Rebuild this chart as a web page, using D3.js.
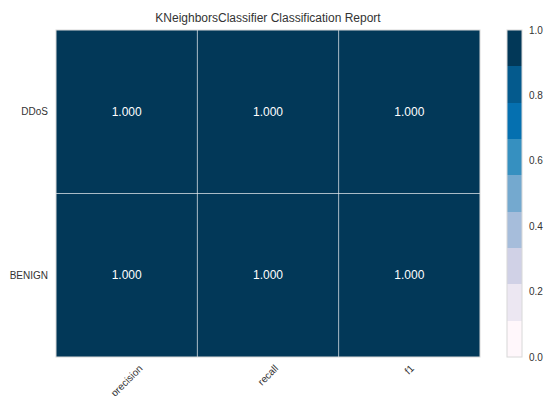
<!DOCTYPE html>
<html><head><meta charset="utf-8">
<script src="https://cdn.jsdelivr.net/npm/d3@7"></script>
<style>body{margin:0;background:#fff}text{font-family:"Liberation Sans",Arial,sans-serif}</style>
</head><body><svg id="c" width="544" height="396"></svg>
<script>
const title = "KNeighborsClassifier Classification Report";
const classes = ["DDoS", "BENIGN"];
const metrics = ["precision", "recall", "f1"];
const scores = [
  [1.0, 1.0, 1.0],
  [1.0, 1.0, 1.0]
];
const cbarTicks = [0.0, 0.2, 0.4, 0.6, 0.8, 1.0];
const palette = ["#fff7fb","#ece7f2","#d0d1e6","#a6bddb","#74a9cf","#3690c0","#0570b0","#045a8d","#023858"];

const svg = d3.select("#c");
const L = 56, R = 480, T = 30, B = 357;
const x = d3.scaleBand().domain(metrics).range([L, R]);
const y = d3.scaleBand().domain(classes).range([T, B]);
const color = d3.scaleQuantize().domain([0, 1]).range(palette);

const cells = [];
classes.forEach((c, i) => metrics.forEach((m, j) => cells.push({c, m, v: scores[i][j]})));

svg.selectAll("rect.cell").data(cells).join("rect").attr("class","cell")
  .attr("x", d => x(d.m)).attr("y", d => y(d.c))
  .attr("width", x.bandwidth()).attr("height", y.bandwidth())
  .attr("fill", d => color(d.v));

// grid lines
metrics.slice(1).forEach(m => svg.append("line").attr("x1", x(m)).attr("x2", x(m)).attr("y1", T).attr("y2", B)
  .attr("stroke", "#fff").attr("stroke-opacity", 0.55).attr("stroke-width", 1));
classes.slice(1).forEach(c => svg.append("line").attr("x1", L).attr("x2", R).attr("y1", y(c)).attr("y2", y(c))
  .attr("stroke", "#fff").attr("stroke-opacity", 0.55).attr("stroke-width", 1));

svg.append("rect").attr("x", L).attr("y", T).attr("width", R-L).attr("height", B-T)
  .attr("fill", "none").attr("stroke", "#d8d8d8").attr("stroke-width", 1);

svg.selectAll("text.val").data(cells).join("text").attr("class","val")
  .attr("x", d => x(d.m) + x.bandwidth()/2).attr("y", d => y(d.c) + y.bandwidth()/2)
  .attr("text-anchor","middle").attr("dominant-baseline","central")
  .attr("font-size", 12).attr("fill", "#fff").text(d => d3.format(".3f")(d.v));

// y labels
svg.selectAll("text.yl").data(classes).join("text").attr("class","yl")
  .attr("x", 48).attr("y", d => y(d) + y.bandwidth()/2)
  .attr("text-anchor","end").attr("dominant-baseline","central")
  .attr("font-size", 10).attr("fill", "#333").text(d => d);

// x labels rotated 45, bbox centered at tick, top at 364
metrics.forEach(m => {
  const t = svg.append("text").attr("font-size", 10).attr("fill", "#333")
    .attr("text-anchor","middle").attr("dominant-baseline","central").text(m);
  const w = t.node().getComputedTextLength(), h = 10;
  const bb = (w + h) * Math.SQRT1_2;
  const cx = x(m) + x.bandwidth()/2, cy = 363 + bb/2;
  t.attr("x", cx).attr("y", cy).attr("transform", `rotate(-45,${cx},${cy})`);
});

svg.append("text").attr("x", (L+R)/2).attr("y", 22).attr("text-anchor","middle")
  .attr("font-size", 12).attr("fill", "#333").text(title);

// colorbar
const CL = 507, CW = 15;
const cy = d3.scaleLinear().domain([0, 1]).range([B, T]);
palette.forEach((col, i) => {
  svg.append("rect").attr("x", CL).attr("width", CW)
    .attr("y", cy((i+1)/palette.length)).attr("height", cy(i/palette.length) - cy((i+1)/palette.length))
    .attr("fill", col).attr("shape-rendering","crispEdges");
});
svg.append("rect").attr("x", CL).attr("y", T).attr("width", CW).attr("height", B-T)
  .attr("fill","none").attr("stroke","#d8d8d8").attr("stroke-width",1);
svg.selectAll("text.ct").data(cbarTicks).join("text").attr("class","ct")
  .attr("x", CL + CW + 7).attr("y", d => cy(d)).attr("dominant-baseline","central")
  .attr("font-size", 10).attr("fill", "#333").text(d => d.toFixed(1));
</script></body></html>
